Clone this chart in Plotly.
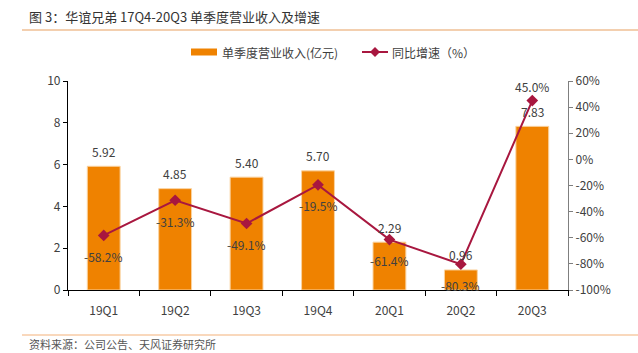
import plotly.graph_objects as go

categories = ["19Q1", "19Q2", "19Q3", "19Q4", "20Q1", "20Q2", "20Q3"]
revenue = [5.92, 4.85, 5.40, 5.70, 2.29, 0.96, 7.83]
growth = [-58.2, -31.3, -49.1, -19.5, -61.4, -80.3, 45.0]
rev_labels = ["5.92", "4.85", "5.40", "5.70", "2.29", "0.96", "7.83"]
growth_labels = ["-58.2%", "-31.3%", "-49.1%", "-19.5%", "-61.4%", "-80.3%", "45.0%"]
y2_ticks = [-100, -80, -60, -40, -20, 0, 20, 40, 60]
y2_ticktext = ["-100%", "-80%", "-60%", "-40%", "-20%", "0%", "20%", "40%", "60%"]

W, H = 638, 353
L, R, T, B = 68, 568, 81, 290
FONT = "Noto Sans CJK SC, Microsoft YaHei, sans-serif"
BAR_C = "#EF8200"
LINE_C = "#A8173F"
TXT_C = "#404040"


def px(x):
    return (x - L) / (R - L)


def py(y):
    return (B - y) / (B - T)


fig = go.Figure()
fig.add_trace(go.Bar(
    x=categories, y=revenue, name="单季度营业收入(亿元)",
    marker=dict(color=BAR_C, line=dict(color="#FAD3A0", width=1)),
    width=0.46, yaxis="y",
))
fig.add_trace(go.Scatter(
    x=categories, y=growth, name="同比增速（%）", yaxis="y2",
    mode="lines+markers", line=dict(color=LINE_C, width=2),
    marker=dict(symbol="diamond", size=9, color=LINE_C),
))

annotations = []
for c, v, t in zip(categories, revenue, rev_labels):
    annotations.append(dict(x=c, y=v, xref="x", yref="y", text=t, showarrow=False,
                            yshift=15, font=dict(family=FONT, size=12, color=TXT_C)))
for c, v, t in zip(categories, growth, growth_labels):
    annotations.append(dict(x=c, y=v, xref="x", yref="y2", text=t, showarrow=False,
                            yshift=14 if v > 0 else -21,
                            font=dict(family=FONT, size=12, color=TXT_C)))

annotations.append(dict(x=px(27), y=py(16), xref="paper", yref="paper", xanchor="left",
                        yanchor="middle", showarrow=False,
                        text="图 3：华谊兄弟 17Q4-20Q3 单季度营业收入及增速",
                        font=dict(family=FONT, size=13, color="#333333")))
annotations.append(dict(x=px(27), y=py(344), xref="paper", yref="paper", xanchor="left",
                        yanchor="middle", showarrow=False,
                        text="资料来源：公司公告、天风证券研究所",
                        font=dict(family=FONT, size=11, color="#555555")))
# custom legend texts
annotations.append(dict(x=px(220), y=py(52), xref="paper", yref="paper", xanchor="left",
                        yanchor="middle", showarrow=False, text="单季度营业收入(亿元)",
                        font=dict(family=FONT, size=12, color=TXT_C)))
annotations.append(dict(x=px(390), y=py(52), xref="paper", yref="paper", xanchor="left",
                        yanchor="middle", showarrow=False, text="同比增速（%）",
                        font=dict(family=FONT, size=12, color=TXT_C)))

dx = 5 / (R - L)
dy = 5 / (B - T)
cx, cy = px(375), py(52)
shapes = [
    dict(type="line", xref="paper", yref="paper", x0=px(22), x1=px(638), y0=py(30), y1=py(30),
         line=dict(color="#E8A060", width=1.2)),
    dict(type="line", xref="paper", yref="paper", x0=px(22), x1=px(638), y0=py(335), y1=py(335),
         line=dict(color="#F4B27A", width=1.2)),
    dict(type="rect", xref="paper", yref="paper", x0=px(191), x1=px(217), y0=py(55.5), y1=py(48.5),
         fillcolor=BAR_C, line=dict(width=0)),
    dict(type="line", xref="paper", yref="paper", x0=px(362), x1=px(388), y0=cy, y1=cy,
         line=dict(color=LINE_C, width=2)),
    dict(type="path", xref="paper", yref="paper",
         path=f"M {cx - dx},{cy} L {cx},{cy + dy} L {cx + dx},{cy} L {cx},{cy - dy} Z",
         fillcolor=LINE_C, line=dict(width=0)),
]

fig.update_layout(
    width=W, height=H,
    margin=dict(l=L, r=W - R, t=T, b=H - B, autoexpand=False),
    paper_bgcolor="white", plot_bgcolor="white",
    font=dict(family=FONT, size=12, color=TXT_C),
    showlegend=False,
    bargap=0.54,
    xaxis=dict(showline=True, linecolor="#000000", linewidth=1.2, ticks="outside",
               tickson="boundaries", ticklen=5, tickcolor="#000000", showgrid=False,
               ticklabelstandoff=9,
               tickfont=dict(family=FONT, size=12, color=TXT_C)),
    yaxis=dict(range=[0, 10], dtick=2, showline=True, linecolor="#000000", linewidth=1.2,
               ticks="outside", ticklen=4, tickcolor="#000000", showgrid=False, zeroline=False,
               tickfont=dict(family=FONT, size=12, color=TXT_C)),
    yaxis2=dict(range=[-100, 60], tickvals=y2_ticks, ticktext=y2_ticktext, overlaying="y",
                side="right", showline=True,
                linecolor="#7F7F7F", linewidth=1.2, ticks="outside", ticklen=4,
                tickcolor="#7F7F7F", showgrid=False, zeroline=False,
                tickfont=dict(family=FONT, size=12, color=TXT_C)),
    annotations=annotations, shapes=shapes,
)

fig.write_html("out.html")
